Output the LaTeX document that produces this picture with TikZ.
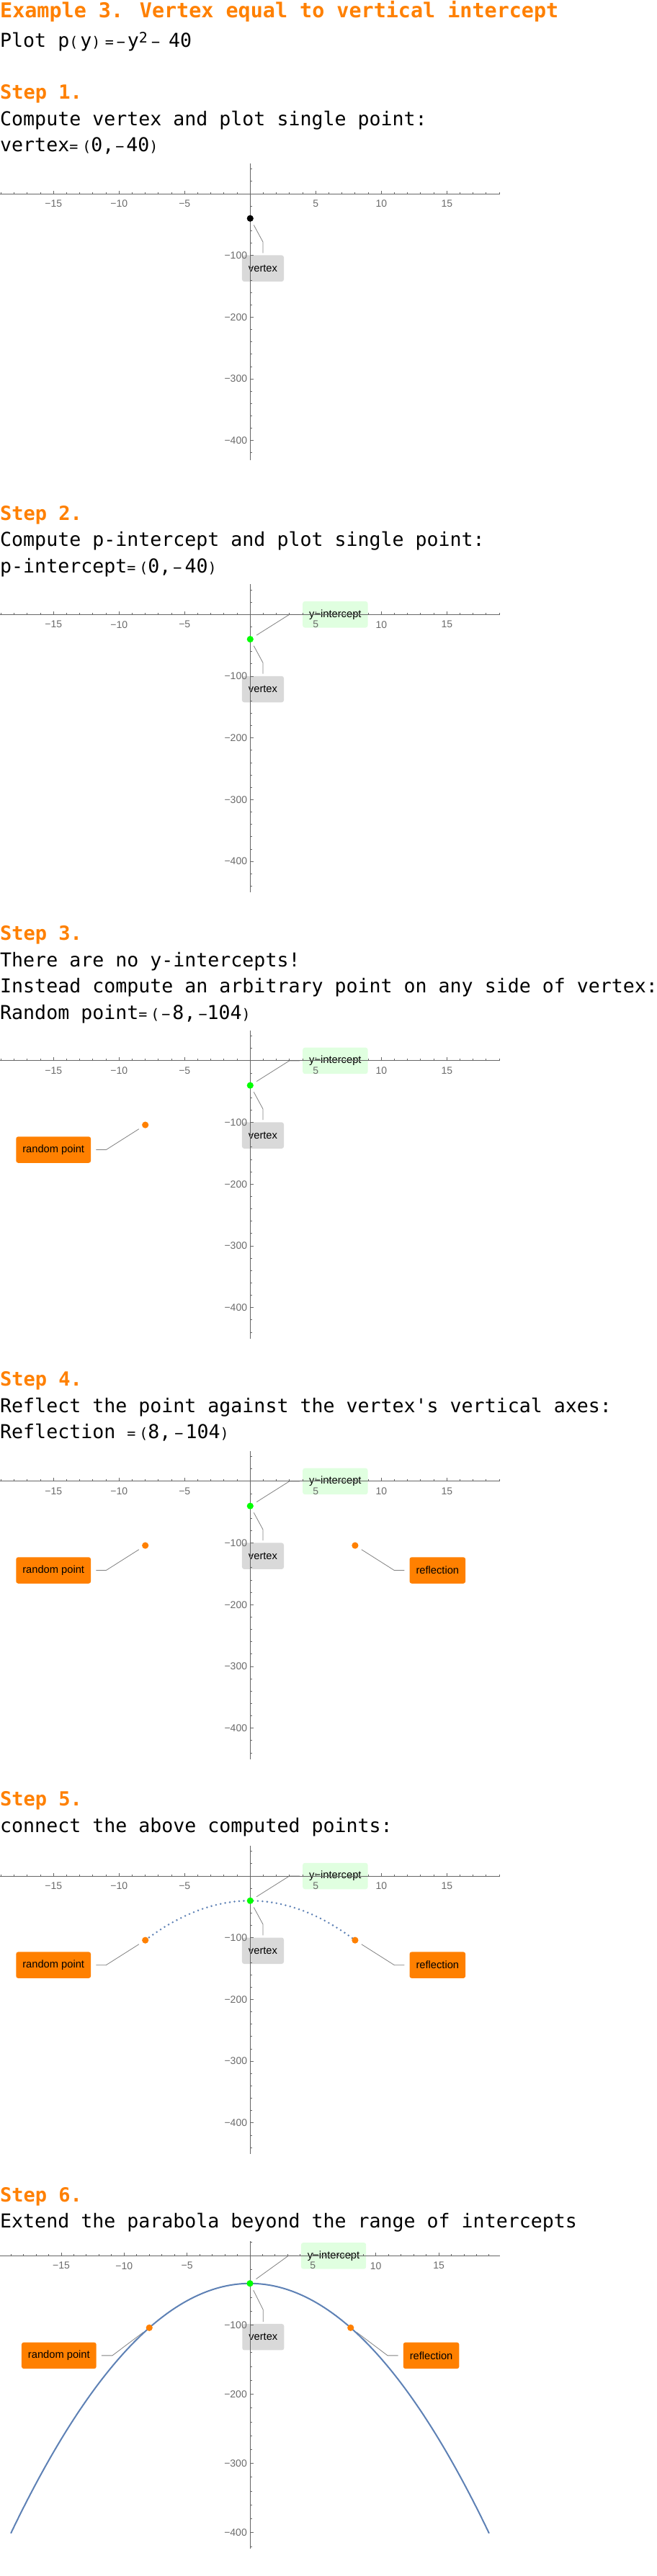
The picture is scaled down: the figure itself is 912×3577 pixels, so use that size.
\documentclass[tikz,border=0pt]{standalone}
\usepackage{fontspec}
\usetikzlibrary{positioning}
\newfontfamily\monofont{DejaVu Sans Mono}
\newfontfamily\sansfont{Liberation Sans}
\definecolor{mmaorange}{rgb}{1,0.5,0}
\definecolor{mmagreen}{rgb}{0,1,0}
\definecolor{lightgreen}{rgb}{0.88,1,0.88}
\definecolor{lightgrey}{rgb}{0.85,0.85,0.85}
\definecolor{axisgrey}{rgb}{0.4,0.4,0.4}
\definecolor{tickgrey}{rgb}{0.42,0.42,0.42}
\definecolor{leadergrey}{rgb}{0.5,0.5,0.5}
\definecolor{curveblue}{rgb}{0.368,0.507,0.71}
\newcommand{\headfont}{\monofont\bfseries\fontsize{28.4}{32}\selectfont}
\newcommand{\stepfont}{\monofont\bfseries\fontsize{27}{32}\selectfont}
\newcommand{\bodyfont}{\monofont\fontsize{26.6}{32}\selectfont}
\newcommand{\smallch}[1]{{\fontsize{20}{24}\selectfont #1}}
\newcommand{\calloutfont}{\sansfont\fontsize{14.7}{17}\selectfont}
\newcommand{\tickfont}{\sansfont\fontsize{14}{17}\selectfont}
\newcommand{\plotaxes}[4]{%
			\draw[axisline] (-#1,0) -- (#1,0);
			\draw[axisline] (0,#2) -- (0,#3);
			\foreach \i in {-19,...,19} \draw[axisline] (\i,0) -- ++(0pt,2.5pt);
			\foreach \i in {-15,-10,-5,5,10,15} \draw[axisline] (\i,0) -- ++(0pt,4.5pt);
			\foreach \i/\t in {-15/−15,-10/−10,-5/−5,5/5,10/10,15/15}
				\node[ticklabel] (xt\i) at ([yshift=-13.9pt]\i,0) {\t};
			\foreach \j in {#4} \draw[axisline] (0,\j) -- ++(2.5pt,0pt);
			\foreach \j in {100,200,300,400} {
				\draw[axisline] (0,-\j) -- ++(4.5pt,0pt);
				\node[ticklabel, anchor=east] (yt\j) at ([xshift=-4pt]0,-\j) {−\j};
			}
}
\newcommand{\addcallout}[6]{%
			\coordinate (#2b) at ([shift={#3}]#1);
			\node[#4] (#2) {#5};
			\draw[leader, shorten >=#6] (#1) -- (#2b) -- (#2);
}

\begin{document}
\begin{tikzpicture}[x=1pt, y=1pt,
	heading/.style={anchor=base west, inner sep=0pt, text=mmaorange, font=\stepfont},
	body/.style={anchor=base west, inner sep=0pt, font=\bodyfont},
	axisline/.style={axisgrey, line width=0.9pt},
	ticklabel/.style={inner sep=0pt, text=tickgrey, font=\tickfont},
	leader/.style={leadergrey, line width=0.8pt, shorten <=10.5pt},
	greybox/.style={fill=lightgrey, rounded corners=3pt, inner xsep=9pt, inner ysep=0pt, minimum height=36.5pt, font=\calloutfont},
	greenbox/.style={greybox, fill=lightgreen},
	orangebox/.style={greybox, fill=mmaorange},
	pointdot/.style={circle, inner sep=0pt, minimum size=9.2pt, fill=#1},
	curve/.style={curveblue, line width=2pt},
	dotcurve/.style={curveblue, line width=2.8pt, line cap=round, dash pattern=on 0pt off 6.5pt}]
			\useasboundingbox (0,0) rectangle (912,-3577);

			\node[heading, font=\headfont] (title) at (0,-24) {Example 3. Vertex equal to vertical intercept};
			\node[body] (plot) at (0,-65.7) {Plot p\smallch{(}\hspace{3pt}y\smallch{)}\hspace{6.5pt}\smallch{=}\hspace{4pt}\smallch{−}\hspace{3pt}y\raisebox{6.5pt}{\smallch{2}}\hspace{5pt}\smallch{−}\hspace{12pt}40};

			\node[heading] (s1) at (0,-137.3) {Step 1.};
			\node[body] (s1a) at (0,-174) {Compute vertex and plot single point:};
			\node[body] (s1b) at (0,-210.7) {vertex\smallch{=}\hspace{6pt}\smallch{(}0,\hspace{2pt}\smallch{−}\hspace{3pt}40\smallch{)}};
			\begin{scope}[shift={(347.3pt,-269pt)}, x=18.2pt, y=0.857pt]
				\coordinate (p1v) at (0,-40);
				\addcallout{p1v}{l1v}{(17.7pt,-32.7pt)}{greybox, below=18.3pt of l1vb}{vertex}{3pt}
				\plotaxes{19.07}{49.4}{-432}{40,20,...,-420}
				\node[pointdot=black] (d1v) at (p1v) {};
			\end{scope}

			\node[heading] (s2) at (0,-722.1) {Step 2.};
			\node[body] (s2a) at (0,-758.6) {Compute p-intercept and plot single point:};
			\node[body] (s2b) at (0,-795.1) {p-intercept\smallch{=}\hspace{5pt}\smallch{(}0,\hspace{3pt}\smallch{−}\hspace{4pt}40\smallch{)}};
			\begin{scope}[shift={(347.3pt,-853.3pt)}, x=18.2pt, y=0.857pt]
				\coordinate (p2v) at (0,-40);
				\addcallout{p2v}{l2y}{(54.4pt,34.3pt)}{greenbox, right=18.3pt of l2yb}{y−intercept}{4pt}
				\addcallout{p2v}{l2v}{(17.7pt,-32.7pt)}{greybox, below=18.3pt of l2vb}{vertex}{3pt}
				\plotaxes{19.07}{49}{-450}{40,20,...,-440}
				\node[pointdot=mmagreen] (d2v) at (p2v) {};
			\end{scope}

			\node[heading] (s3) at (0,-1305.9) {Step 3.};
			\node[body] (s3a) at (0,-1342.4) {There are no y-intercepts!};
			\node[body] (s3b) at (0,-1378.9) {Instead compute an arbitrary point on any side of vertex:};
			\node[body] (s3c) at (0,-1415.4) {Random point\smallch{=}\hspace{5pt}\smallch{(}\hspace{3pt}\smallch{−}\hspace{3pt}8,\hspace{4pt}\smallch{−}104\smallch{)}};
			\begin{scope}[shift={(347.3pt,-1472.9pt)}, x=18.2pt, y=0.857pt]
				\coordinate (p3v) at (0,-40);
				\coordinate (p3r) at (-8,-104);
				\addcallout{p3v}{l3y}{(54.4pt,34.3pt)}{greenbox, right=18.3pt of l3yb}{y−intercept}{4pt}
				\addcallout{p3v}{l3v}{(17.7pt,-32.7pt)}{greybox, below=18.3pt of l3vb}{vertex}{3pt}
				\addcallout{p3r}{l3r}{(-54.4pt,-34.5pt)}{orangebox, left=21pt of l3rb}{random point}{7pt}
				\plotaxes{19.07}{48.7}{-450}{40,20,...,-440}
				\node[pointdot=mmagreen] (d3v) at (p3v) {};
				\node[pointdot=mmaorange] (d3r) at (p3r) {};
			\end{scope}

			\node[heading] (s4) at (0,-1924.8) {Step 4.};
			\node[body] (s4a) at (0,-1961.3) {Reflect the point against the vertex\textquotesingle s vertical axes:};
			\node[body] (s4b) at (0,-1997.8) {Reflection \smallch{=}\hspace{5pt}\smallch{(}8,\hspace{5pt}\smallch{−}\hspace{3pt}104\smallch{)}};
			\begin{scope}[shift={(347.3pt,-2056.9pt)}, x=18.2pt, y=0.857pt]
				\coordinate (p4v) at (0,-40);
				\coordinate (p4r) at (-8,-104);
				\coordinate (p4f) at (8,-104);
				\addcallout{p4v}{l4y}{(54.4pt,34.3pt)}{greenbox, right=18.3pt of l4yb}{y−intercept}{4pt}
				\addcallout{p4v}{l4v}{(17.7pt,-32.7pt)}{greybox, below=18.3pt of l4vb}{vertex}{3pt}
				\addcallout{p4r}{l4r}{(-54.4pt,-34.5pt)}{orangebox, left=21pt of l4rb}{random point}{7pt}
				\addcallout{p4f}{l4f}{(54.4pt,-34.5pt)}{orangebox, right=21pt of l4fb}{reflection}{7pt}
				\plotaxes{19.07}{48.5}{-450}{40,20,...,-440}
				\node[pointdot=mmagreen] (d4v) at (p4v) {};
				\node[pointdot=mmaorange] (d4r) at (p4r) {};
				\node[pointdot=mmaorange] (d4f) at (p4f) {};
			\end{scope}

			\node[heading] (s5) at (0,-2507.9) {Step 5.};
			\node[body] (s5a) at (0,-2544.4) {connect the above computed points:};
			\begin{scope}[shift={(347.3pt,-2605pt)}, x=18.2pt, y=0.857pt]
				\coordinate (p5v) at (0,-40);
				\coordinate (p5r) at (-8,-104);
				\coordinate (p5f) at (8,-104);
				\addcallout{p5v}{l5y}{(54.4pt,34.3pt)}{greenbox, right=18.3pt of l5yb}{y−intercept}{4pt}
				\addcallout{p5v}{l5v}{(17.7pt,-32.7pt)}{greybox, below=18.3pt of l5vb}{vertex}{3pt}
				\addcallout{p5r}{l5r}{(-54.4pt,-34.5pt)}{orangebox, left=21pt of l5rb}{random point}{7pt}
				\addcallout{p5f}{l5f}{(54.4pt,-34.5pt)}{orangebox, right=21pt of l5fb}{reflection}{7pt}
				\plotaxes{19.07}{48.8}{-450}{40,20,...,-440}
				\draw[dotcurve] plot[domain=-8:8, samples=60, smooth] (\x,{-(\x)*(\x)-40});
				\node[pointdot=mmagreen] (d5v) at (p5v) {};
				\node[pointdot=mmaorange] (d5r) at (p5r) {};
				\node[pointdot=mmaorange] (d5f) at (p5f) {};
			\end{scope}

			\node[heading] (s6) at (0,-3057.3) {Step 6.};
			\node[body] (s6a) at (0,-3093.8) {Extend the parabola beyond the range of intercepts};
			\begin{scope}[shift={(347pt,-3132.3pt)}, x=17.47pt, y=0.961pt]
				\coordinate (p6v) at (0,-40);
				\coordinate (p6r) at (-8,-104);
				\coordinate (p6f) at (8,-104);
				\addcallout{p6v}{l6y}{(53.2pt,38.4pt)}{greenbox, right=17.5pt of l6yb}{y−intercept}{4pt}
				\addcallout{p6v}{l6v}{(18.3pt,-36.5pt)}{greybox, below=19.5pt of l6vb}{vertex}{3pt}
				\addcallout{p6r}{l6r}{(-51.3pt,-38.6pt)}{orangebox, left=22pt of l6rb}{random point}{7pt}
				\addcallout{p6f}{l6f}{(51.3pt,-38.6pt)}{orangebox, right=21.5pt of l6fb}{reflection}{7pt}
				\plotaxes{19.85}{21.4}{-422.8}{20,0,...,-420}
				\draw[curve] plot[domain=-19:19, samples=120, smooth] (\x,{-(\x)*(\x)-40});
				\node[pointdot=mmagreen] (d6v) at (p6v) {};
				\node[pointdot=mmaorange] (d6r) at (p6r) {};
				\node[pointdot=mmaorange] (d6f) at (p6f) {};
			\end{scope}
\end{tikzpicture}
\end{document}
